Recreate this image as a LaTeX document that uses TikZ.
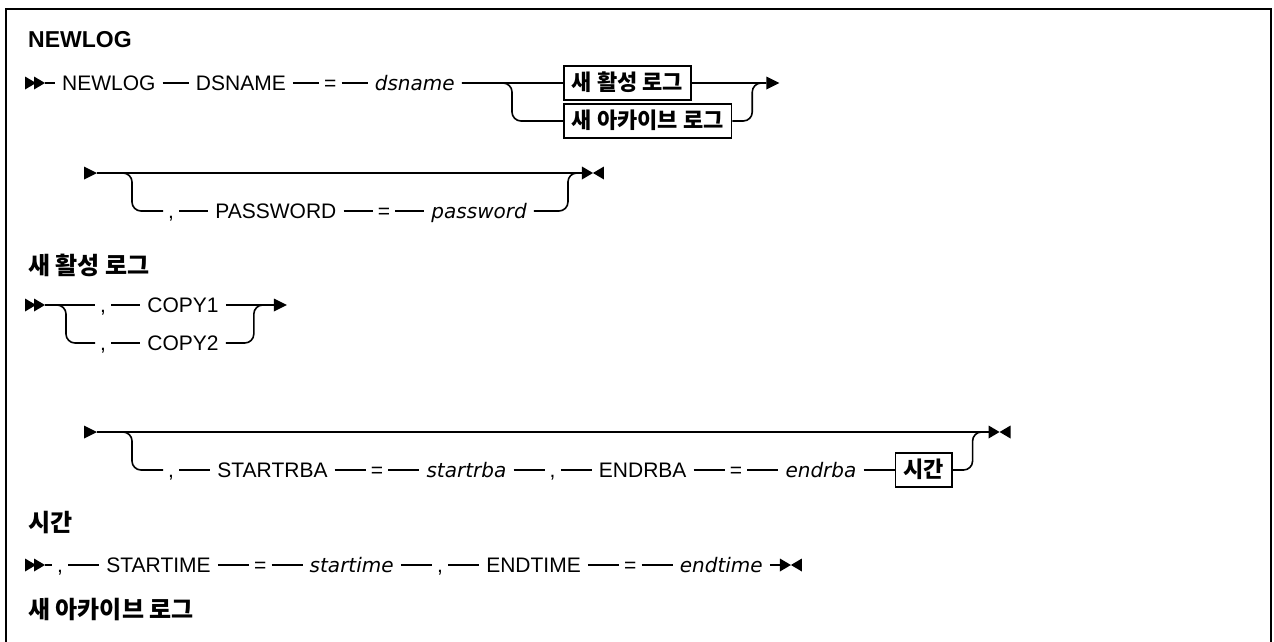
\documentclass[tikz,border=0pt]{standalone}
\usepackage{fontspec}
\setmainfont{Liberation Sans}
\newfontfamily\kr{Noto Sans CJK KR}
\newfontfamily\vit{DejaVu Sans Oblique}
\usetikzlibrary{positioning,calc}
\tikzset{
  arr/.pic={\fill (0,-6.5) -- (13,0) -- (0,6.5) -- cycle;},
  dbl/.pic={\fill (0,-6.5) -- (11,0) -- (0,6.5) -- cycle; \fill (9,-6.5) -- (20,0) -- (9,6.5) -- cycle;},
  bow/.pic={\fill (0,-6.5) -- (11,0) -- (0,6.5) -- cycle; \fill (22,-6.5) -- (11,0) -- (22,6.5) -- cycle;}
}
\begin{document}
\begin{tikzpicture}[x=1pt,y=-1pt,
  lbl/.style={inner xsep=7pt, inner ysep=2pt, text height=15pt, text depth=1pt, font=\fontsize{21}{25}\selectfont},
  sym/.style={lbl, inner xsep=5pt},
  var/.style={lbl, font=\fontsize{20}{24}\selectfont\vit},
  krbox/.style={draw, line width=1.5pt, inner xsep=8pt, inner ysep=7pt, text height=17pt, text depth=3pt, font=\fontsize{22}{26}\selectfont\kr\bfseries},
  conn/.style={line width=1.6pt},
  rc/.style={conn, rounded corners=9pt},
  head/.style={anchor=west, inner sep=0pt, font=\fontsize{23}{27}\selectfont\bfseries},
  khead/.style={anchor=west, inner sep=0pt, font=\fontsize{24}{28}\selectfont\kr\bfseries},
  gap/.style={right=29pt of #1},
  gapa/.style={right=26pt of #1},
  gapb/.style={right=31pt of #1},
]
\useasboundingbox (0,0) rectangle (1274,642);
\draw[line width=2.5pt] (6,642) -- (6,9) -- (1271,9) -- (1271,642);

% headings
\node[head] (h1) at (28,40) {NEWLOG};
\node[khead] (h2) at (28,265) {새 활성 로그};
\node[khead] (h3) at (28,523) {시간};
\node[khead] (h4) at (28,610) {새 아카이브 로그};

% row 1
\pic at (25,83) {dbl};
\coordinate (s1) at (45,83);
\node[lbl, anchor=west] (n1) at (55,83) {NEWLOG};
\node[lbl, gapa=n1] (n2) {DSNAME};
\node[sym, gapa=n2] (n3) {=};
\node[var, gapa=n3] (n4) {dsname};
\coordinate (j1) at (512,83);
\node[krbox, anchor=west] (b1) at (563,83) {새 활성 로그};
\node[krbox, anchor=west] (b2) at (563,121) {새 아카이브 로그};
\coordinate (m1) at ($(b2.east|-s1)+(20,0)$);
\coordinate (e1) at ($(m1)+(14,0)$);
\pic at (e1) {arr};
\draw[conn] (s1) -- (n1) (n1) -- (n2) (n2) -- (n3) (n3) -- (n4) (n4) -- (b1) (b1) -- (e1);
\draw[rc] (n4.east) -- (j1) -- (j1 |- b2.west) -- (b2.west);
\draw[rc] (b2.east) -- (m1 |- b2.east) -- (m1) -- (e1);

% row 2
\pic at (84,173) {arr};
\coordinate (s2) at (97,173);
\coordinate (j2) at (132,173);
\node[sym, anchor=west] (p1) at (163,211) {,};
\node[lbl, gap=p1] (p2) {PASSWORD\hspace{8pt}};
\node[sym, gap=p2] (p3) {=};
\node[var, gap=p3] (p4) {password};
\coordinate (m2) at ($(p4.east|-s2)+(34,0)$);
\coordinate (e2) at ($(m2)+(14,0)$);
\pic at (e2) {bow};
\draw[conn] (s2) -- (e2);
\draw[rc] (s2) -- (j2) -- (j2 |- p1.west) -- (p1.west);
\draw[conn] (p1) -- (p2) (p2) -- (p3) (p3) -- (p4);
\draw[rc] (p4.east) -- (m2 |- p4.east) -- (m2) -- (e2);

% row 3
\pic at (25,305) {dbl};
\coordinate (s3) at (45,305);
\coordinate (j3) at (66,305);
\node[sym, anchor=west] (c1) at (95,305) {,};
\node[lbl, gap=c1] (c2) {COPY1};
\node[sym, anchor=west] (d1) at (95,343) {,};
\node[lbl, gap=d1] (d2) {COPY2};
\coordinate (m3) at ($(d2.east|-s3)+(28,0)$);
\coordinate (e3) at ($(m3)+(20,0)$);
\pic at (e3) {arr};
\draw[conn] (s3) -- (c1) (c1) -- (c2) (c2) -- (e3) (d1) -- (d2);
\draw[rc] (s3) -- (j3) -- (j3 |- d1.west) -- (d1.west);
\draw[rc] (d2.east) -- (m3 |- d2.east) -- (m3) -- (e3);

% row 4
\pic at (84,432) {arr};
\coordinate (s4) at (97,432);
\coordinate (j4) at (132,432);
\node[sym, anchor=west] (q1) at (163,470) {,};
\node[lbl, gapb=q1] (q2) {STARTRBA\hspace{8pt}};
\node[sym, gapb=q2] (q3) {=};
\node[var, gapb=q3] (q4) {startrba};
\node[sym, gapb=q4] (q5) {,};
\node[lbl, gapb=q5] (q6) {ENDRBA};
\node[sym, gapb=q6] (q7) {=};
\node[var, gapb=q7] (q8) {endrba};
\node[krbox, gapb=q8] (bt) {시간};
\coordinate (m4) at ($(bt.east|-s4)+(20,0)$);
\coordinate (e4) at ($(m4)+(16,0)$);
\pic at (e4) {bow};
\draw[conn] (s4) -- (e4);
\draw[rc] (s4) -- (j4) -- (j4 |- q1.west) -- (q1.west);
\draw[conn] (q1) -- (q2) (q2) -- (q3) (q3) -- (q4) (q4) -- (q5) (q5) -- (q6) (q6) -- (q7) (q7) -- (q8) (q8) -- (bt);
\draw[rc] (bt.east) -- (m4 |- bt.east) -- (m4) -- (e4);

% row 5
\pic at (25,565) {dbl};
\coordinate (s5) at (45,565);
\node[sym, anchor=west] (t1) at (52,565) {,};
\node[lbl, gapb=t1] (t2) {STARTIME\hspace{8pt}};
\node[sym, gapb=t2] (t3) {=};
\node[var, gapb=t3] (t4) {startime};
\node[sym, gapb=t4] (t5) {,};
\node[lbl, gapb=t5] (t6) {ENDTIME};
\node[sym, gapb=t6] (t7) {=};
\node[var, gapb=t7] (t8) {endtime};
\coordinate (e5) at ($(t8.east)+(10,0)$);
\pic at (e5) {bow};
\draw[conn] (s5) -- (t1) (t1) -- (t2) (t2) -- (t3) (t3) -- (t4) (t4) -- (t5) (t5) -- (t6) (t6) -- (t7) (t7) -- (t8) (t8) -- (e5);
\end{tikzpicture}
\end{document}
